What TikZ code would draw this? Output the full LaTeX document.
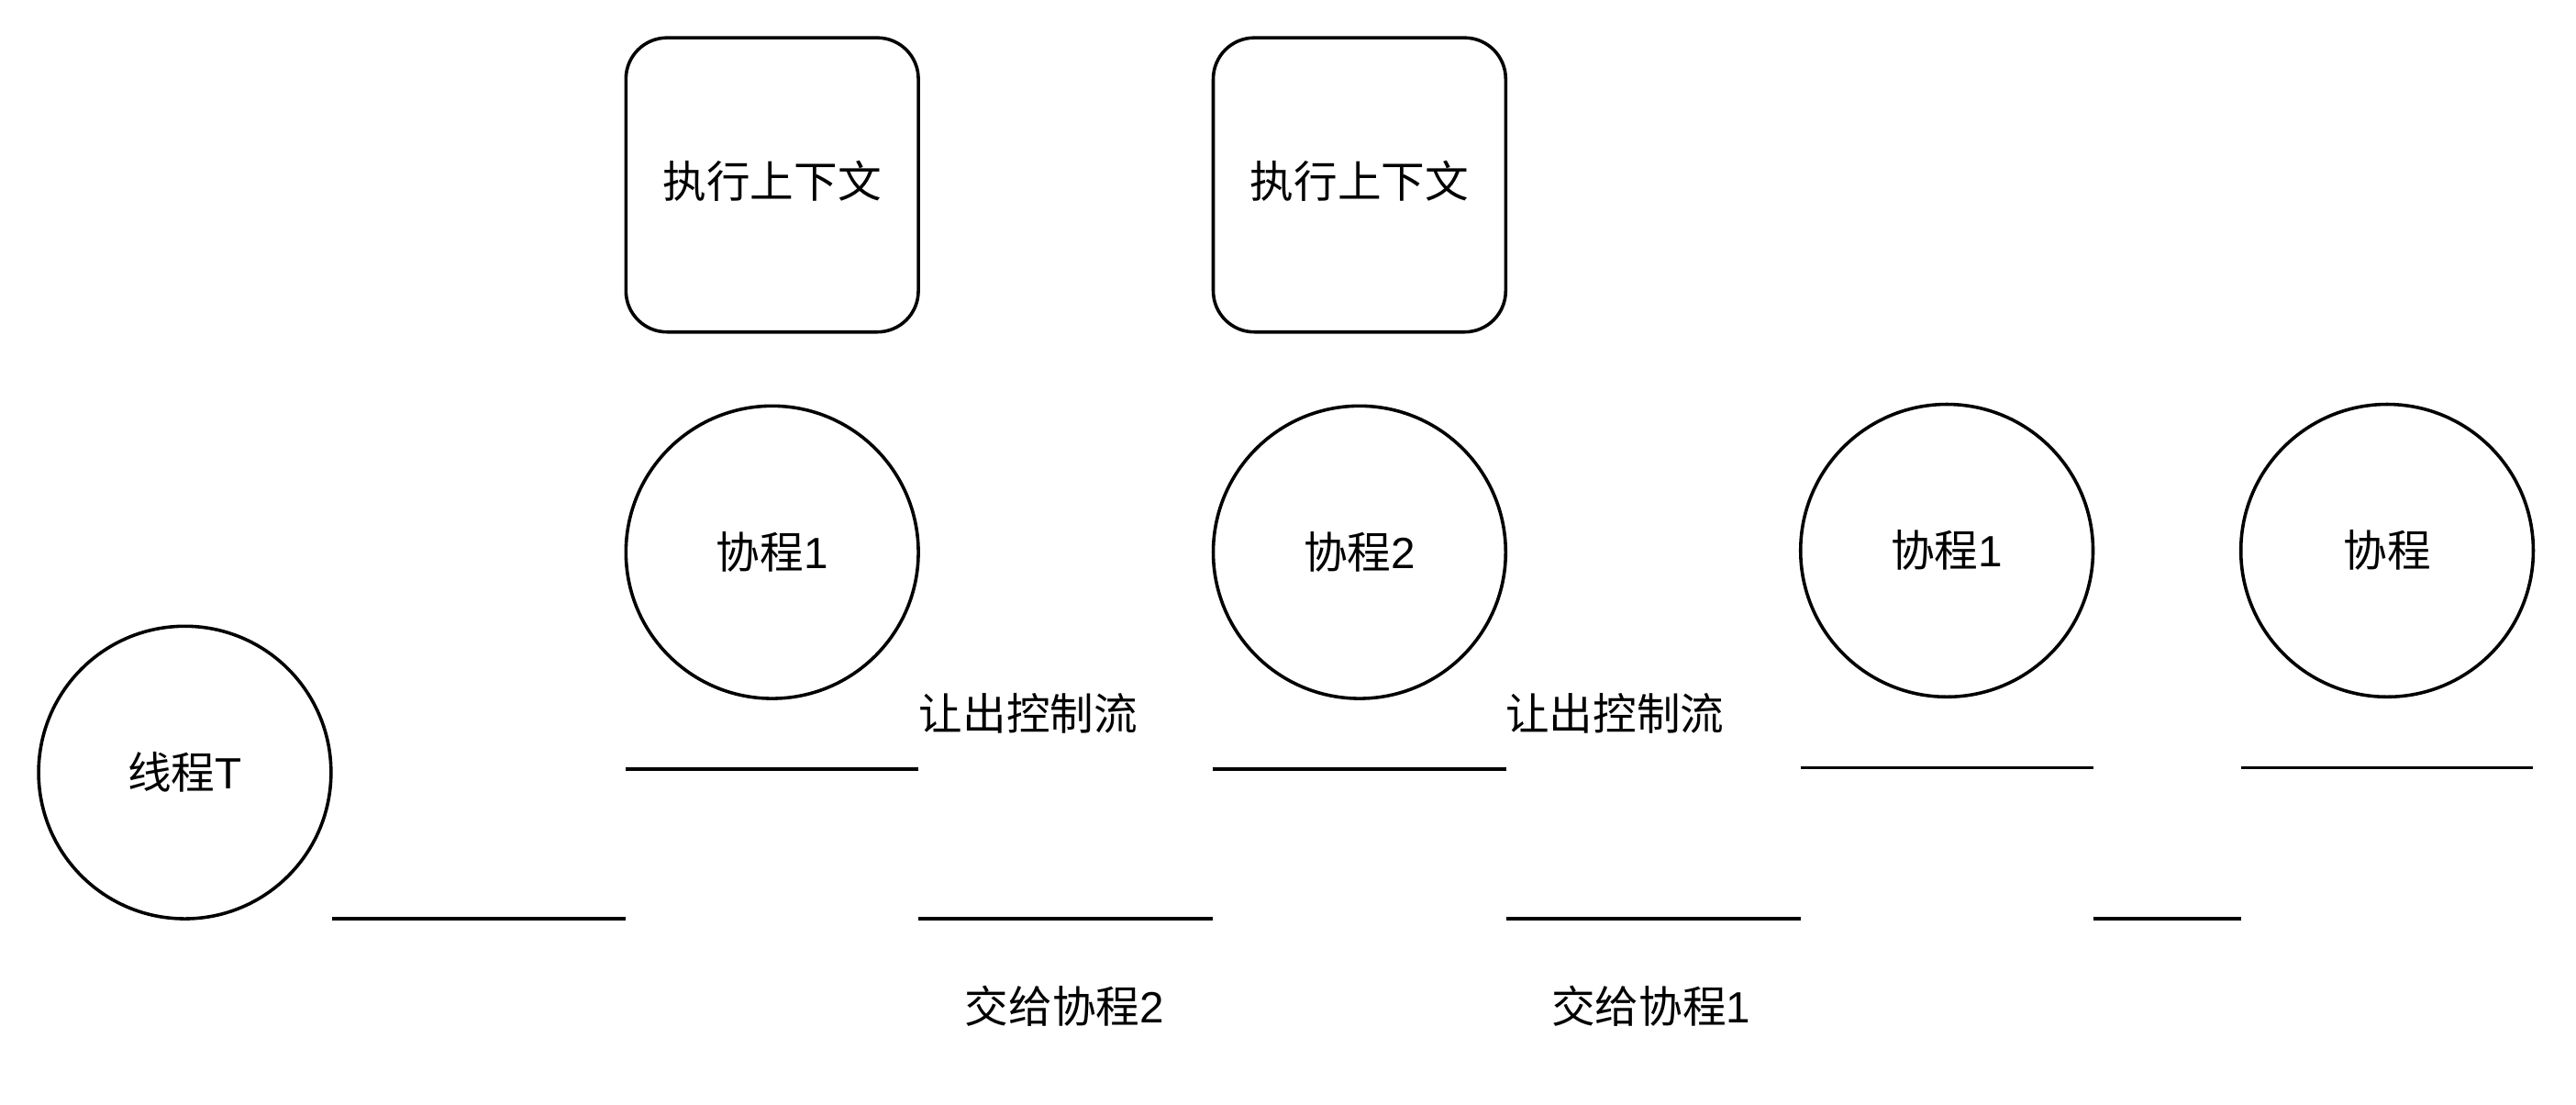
\documentclass[tikz,border=0pt]{standalone}
\usepackage{fontspec}
\setmainfont{Noto Sans CJK SC}
\newfontfamily\latinfont{Liberation Sans}
\newcommand{\lt}[1]{{\latinfont #1}}
\begin{document}
\begin{tikzpicture}[x=0.5pt,y=-0.5pt,
  every node/.style={font=\fontsize{13.3}{16}\selectfont, inner sep=0pt},
  co/.style={draw, circle, line width=1pt, minimum size=89pt},
  ctx/.style={draw, rectangle, rounded corners=12.5pt, line width=1pt,
              minimum width=89pt, minimum height=89.5pt},
  seg/.style={line width=1pt}]
  \useasboundingbox (0,0) rectangle (1568,672);

  % execution contexts
  \node[ctx] (ctx1) at (470,112.5) {};
  \node[ctx] (ctx2) at (827.5,112.5) {};
  \node (ctx1t) at (470,110) {执行上下文};
  \node (ctx2t) at (827.5,110) {执行上下文};

  % thread and coroutines
  \node[co] (t)  at (112.5,470) {线程\lt{T}};
  \node[co] (c1) at (470,336) {协程\lt{1}};
  \node[co] (c2) at (827.5,336) {协程\lt{2}};
  \node[co] (c3) at (1185,335) {协程\lt{1}};
  \node[co] (c4) at (1453,335) {协程};

  % upper segments
  \coordinate (u1a) at (381,468);  \coordinate (u1b) at (559,468);
  \coordinate (u2a) at (738,468);  \coordinate (u2b) at (917,468);
  \coordinate (u3a) at (1096,467); \coordinate (u3b) at (1274,467);
  \coordinate (u4a) at (1364,467); \coordinate (u4b) at (1542,467);
  \draw[seg] (u1a) -- (u1b);
  \draw[seg] (u2a) -- (u2b);
  \draw[seg] (u3a) -- (u3b);
  \draw[seg] (u4a) -- (u4b);

  % lower segments
  \coordinate (l1a) at (202,559);  \coordinate (l1b) at (381,559);
  \coordinate (l2a) at (559,559);  \coordinate (l2b) at (738,559);
  \coordinate (l3a) at (917,559);  \coordinate (l3b) at (1096,559);
  \coordinate (l4a) at (1274,559); \coordinate (l4b) at (1364,559);
  \draw[seg] (l1a) -- (l1b);
  \draw[seg] (l2a) -- (l2b);
  \draw[seg] (l3a) -- (l3b);
  \draw[seg] (l4a) -- (l4b);

  % labels
  \node (y1) at (626,434) {让出控制流};
  \node (y2) at (983,434) {让出控制流};
  \node (h1) at (648,612) {交给协程\lt{2}};
  \node (h2) at (1005,612) {交给协程\lt{1}};
\end{tikzpicture}
\end{document}
